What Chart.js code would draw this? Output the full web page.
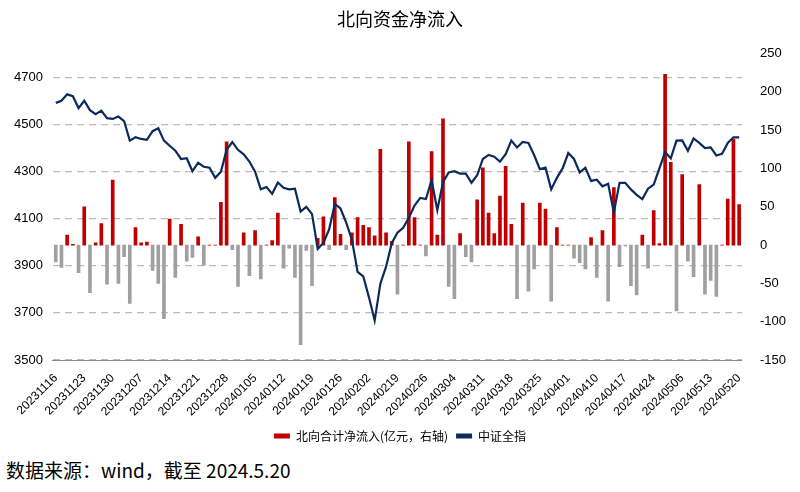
<!DOCTYPE html>
<html lang="zh">
<head>
<meta charset="UTF-8">
<script src="https://cdn.jsdelivr.net/npm/chart.js"></script>
<style>
  body { margin: 0; background: #fff; font-family: "Noto Sans CJK SC", "Liberation Sans", sans-serif; }
  #wrap { position: relative; width: 800px; height: 452px; }
  .src { position: absolute; left: 6px; top: 456px; font-size: 19px; color: #000; }
</style>
</head>
<body>
<div id="wrap"><canvas id="c" width="800" height="452"></canvas></div>
<div class="src">数据来源：wind，截至 2024.5.20</div>
<script>
const dates = [
  '20231116','20231117','20231120','20231121','20231122','20231123','20231124','20231127','20231128','20231129','20231130',
  '20231201','20231204','20231205','20231206','20231207','20231208','20231211','20231212','20231213','20231214','20231215',
  '20231218','20231219','20231220','20231221','20231222','20231225','20231226','20231227','20231228','20231229',
  '20240102','20240103','20240104','20240105','20240108','20240109','20240110','20240111','20240112','20240115','20240116',
  '20240117','20240118','20240119','20240122','20240123','20240124','20240125','20240126','20240129','20240130','20240131',
  '20240201','20240202','20240205','20240206','20240207','20240208','20240219','20240220','20240221','20240222','20240223',
  '20240226','20240227','20240228','20240229','20240301','20240304','20240305','20240306','20240307','20240308','20240311',
  '20240312','20240313','20240314','20240315','20240318','20240319','20240320','20240321','20240322','20240325','20240326',
  '20240327','20240328','20240329','20240401','20240402','20240403','20240408','20240409','20240410','20240411','20240412',
  '20240415','20240416','20240417','20240418','20240419','20240422','20240423','20240424','20240425','20240426','20240429',
  '20240430','20240506','20240507','20240508','20240509','20240510','20240513','20240514','20240515','20240516','20240517',
  '20240520'
];

// 北向合计净流入 (亿元, 右轴)
const northFlow = [
  -22,-29,13,1,-36,50,-62,3,28,-51,85,-50,-15,-76,23,3,4,-33,-50,-96,34,-42,27,-21,-16,
  11,-26,0,0,56,135,-6,-54,16,-40,19,-44,0,6,42,-30,-4,-42,-130,-7,-53,9,37,-6,62,
  14,-6,16,36,26,23,12,125,16,5,-64,0,135,36,0,-14,122,13,165,-54,-70,15,-15,-22,59,
  101,42,15,64,103,27,-70,55,-60,-31,55,47,-73,23,0,0,-17,-23,-31,10,-42,19,-73,75,-28,
  -1,-53,-65,13,-30,45,2,223,108,-86,92,-21,-41,79,-64,-46,-67,0,60,138,53
];

// 中证全指 (左轴)
const csiAll = [
  4591,4600,4627,4619,4569,4600,4560,4543,4558,4526,4523,4533,4514,4431,4445,4438,4434,4471,4483,4431,
  4409,4388,4353,4356,4301,4337,4320,4316,4273,4299,4392,4425,4392,4373,4342,4299,4224,4234,4205,4253,
  4231,4224,4227,4130,4150,4119,3972,3997,4054,4162,4143,4083,4011,3874,3855,3766,3668,3824,3896,3996,
  4040,4061,4104,4155,4188,4183,4263,4136,4255,4296,4301,4291,4291,4252,4284,4353,4370,4363,4342,4373,
  4431,4402,4425,4421,4370,4310,4316,4224,4273,4313,4378,4353,4296,4316,4260,4265,4237,4248,4126,4252,
  4252,4224,4201,4183,4227,4244,4313,4382,4356,4431,4432,4388,4440,4421,4399,4402,4368,4375,4421,4445,4445
];

const leftTicks = [3500, 3700, 3900, 4100, 4300, 4500, 4700];
const rightTicks = [-150, -100, -50, 0, 50, 100, 150, 200, 250];

const RED = '#C00000', GREY = '#A0A0A0', NAVY = '#0D2A5C';
const font = { family: '"Liberation Sans", sans-serif', size: 13 };

new Chart(document.getElementById('c'), {
  data: {
    labels: dates,
    datasets: [
      { type: 'line', label: '中证全指', data: csiAll, yAxisID: 'y', borderColor: NAVY, borderWidth: 2.2,
        pointRadius: 0, tension: 0, order: 0 },
      { type: 'bar', label: '北向合计净流入(亿元，右轴)', data: northFlow, yAxisID: 'y1',
        backgroundColor: northFlow.map(v => v >= 0 ? RED : GREY), barThickness: 3, order: 1 }
    ]
  },
  options: {
    responsive: false, animation: false,
    layout: { padding: { left: 4, right: 4, top: 4, bottom: 0 } },
    plugins: {
      title: { display: true, text: '北向资金净流入', color: '#000',
        font: { family: '"Noto Sans CJK SC", sans-serif', size: 18, weight: 'normal' }, padding: { top: 4, bottom: 24 } },
      legend: {
        position: 'bottom', reverse: true,
        labels: {
          color: '#000', font: { family: '"Noto Sans CJK SC", sans-serif', size: 12 }, boxWidth: 16, boxHeight: 5, padding: 8,
          generateLabels: chart => chart.data.datasets.map((d, i) => ({
            text: d.label, datasetIndex: i, lineWidth: 0,
            fillStyle: d.type === 'bar' ? RED : NAVY, strokeStyle: d.type === 'bar' ? RED : NAVY
          }))
        }
      },
      tooltip: { enabled: false }
    },
    scales: {
      x: {
        grid: { display: false },
        border: { color: '#888' },
        ticks: {
          autoSkip: false, minRotation: 45, maxRotation: 45, color: '#000', font: { ...font, size: 12 },
          callback: (v, i) => i % 5 === 0 ? dates[i] : ''
        }
      },
      y: {
        position: 'left', min: 3500, max: 4800,
        afterBuildTicks: ax => { ax.ticks = leftTicks.map(v => ({ value: v })); },
        grid: { color: '#BBBBBB', lineWidth: 1.2, drawTicks: false },
        border: { display: true, color: 'rgba(0,0,0,0)', dash: [7, 5] },
        ticks: { color: '#000', font, padding: 10, callback: v => String(v) }
      },
      y1: {
        position: 'right', min: -150, max: 250,
        afterBuildTicks: ax => { ax.ticks = rightTicks.map(v => ({ value: v })); },
        grid: { display: false },
        border: { display: false },
        ticks: { color: '#000', font, padding: 10, callback: v => String(v) }
      }
    }
  }
});
</script>
</body>
</html>
